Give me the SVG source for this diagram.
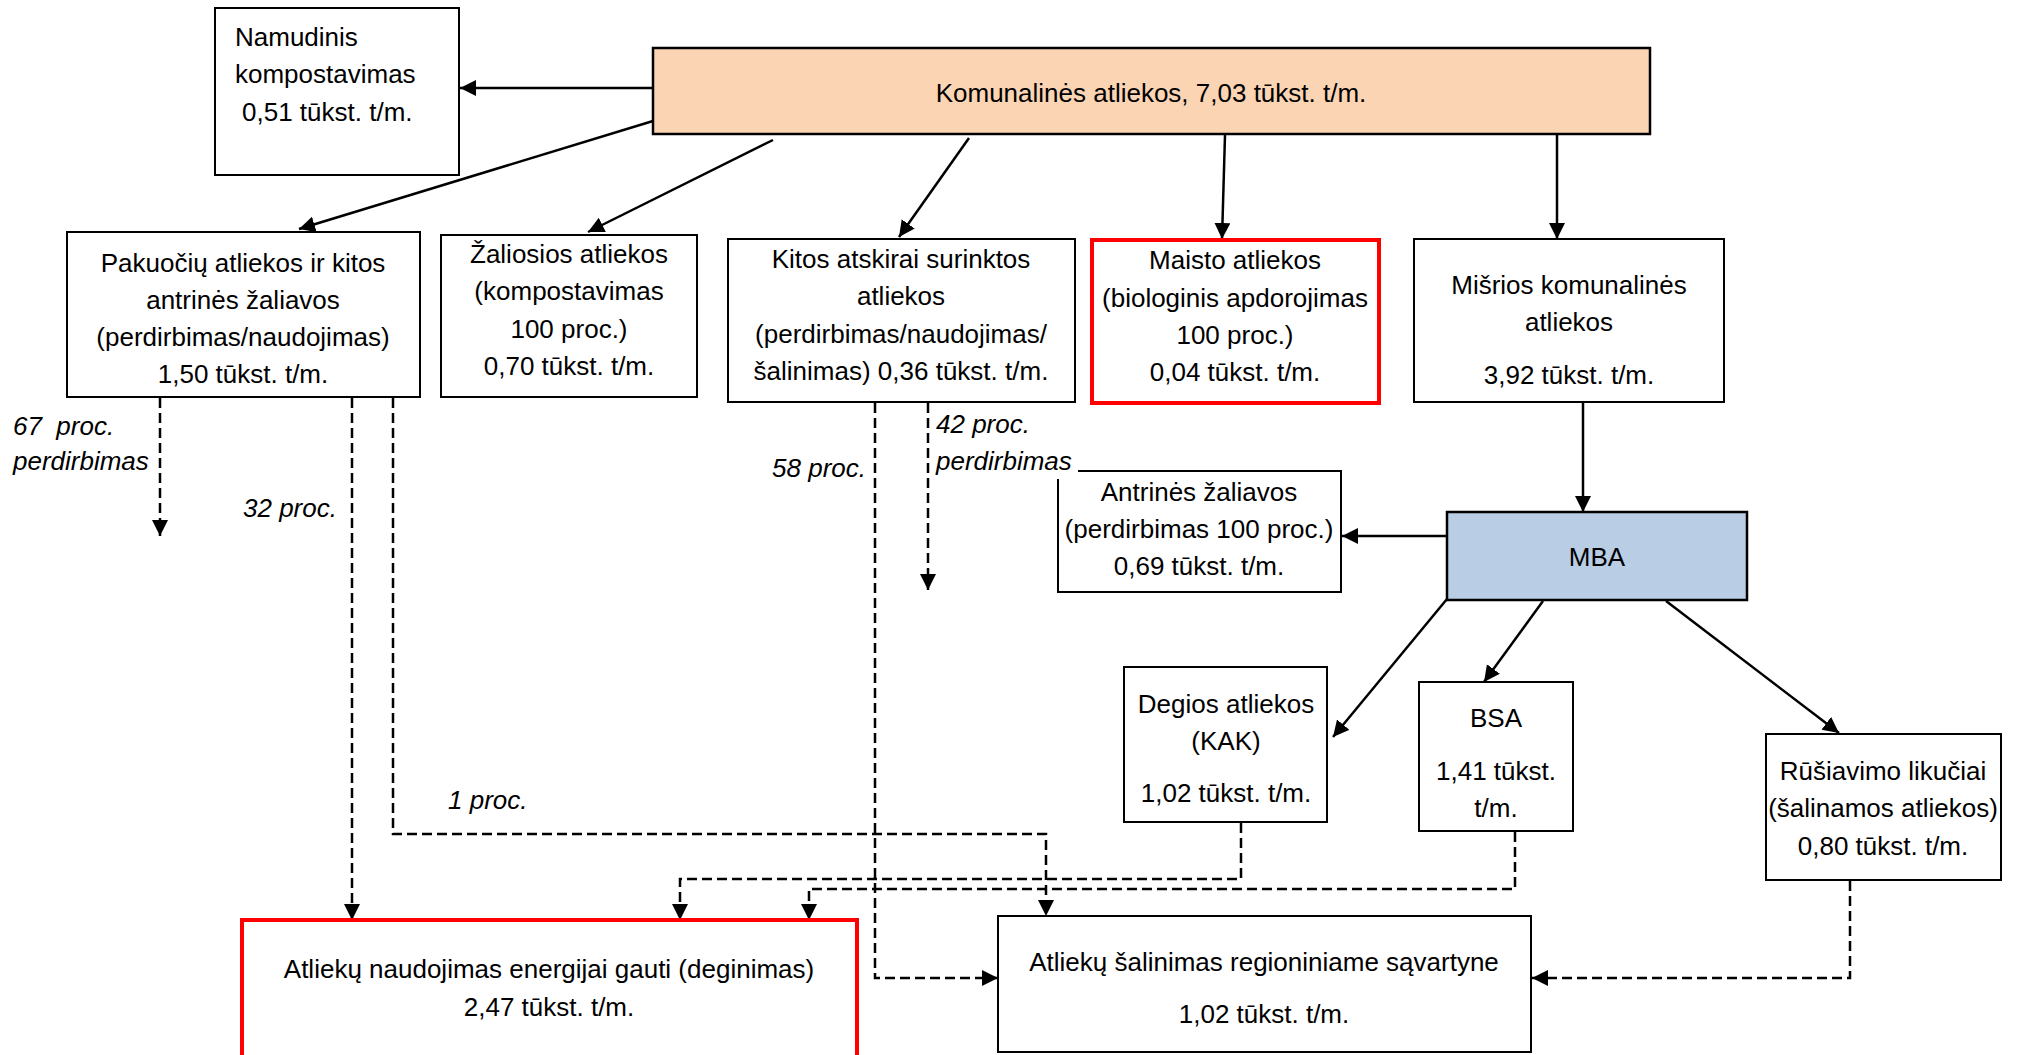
<svg xmlns="http://www.w3.org/2000/svg" width="2021" height="1055" viewBox="0 0 2021 1055">
<defs>
<style>
.box{fill:#ffffff;stroke:#000000;stroke-width:2}
.red{fill:#ffffff;stroke:#ff0000;stroke-width:4}
.t{font-family:"Liberation Sans",Arial,sans-serif;font-size:26px;fill:#000000;text-anchor:middle}
.ts{font-family:"Liberation Sans",Arial,sans-serif;font-size:26px;fill:#000000;text-anchor:start}
.lab{font-family:"Liberation Sans",Arial,sans-serif;font-size:26px;font-style:italic;fill:#000000}
.sol{fill:none;stroke:#000000;stroke-width:2.5;marker-end:url(#ah)}
.dash{fill:none;stroke:#000000;stroke-width:2.5;stroke-dasharray:10,5;marker-end:url(#ah)}
</style>
<marker id="ah" markerUnits="userSpaceOnUse" markerWidth="17" markerHeight="17" refX="16" refY="8" orient="auto">
<path d="M0,0 L16,8 L0,16 Z" fill="#000000"/>
</marker>
</defs>
<rect x="0" y="0" width="2021" height="1055" fill="#ffffff"/>

<g id="connectors">
<line class="sol" x1="653" y1="88" x2="460" y2="88"/>
<line class="sol" x1="653" y1="121" x2="299" y2="229"/>
<line class="sol" x1="773" y1="140" x2="588" y2="232"/>
<line class="sol" x1="969" y1="138" x2="899" y2="237"/>
<line class="sol" x1="1225" y1="135" x2="1222" y2="239"/>
<line class="sol" x1="1557" y1="135" x2="1557" y2="239"/>
<line class="sol" x1="1583" y1="403" x2="1583" y2="512"/>
<line class="sol" x1="1446" y1="536" x2="1342" y2="536"/>
<line class="sol" x1="1447" y1="599" x2="1333" y2="737"/>
<line class="sol" x1="1543" y1="601" x2="1484" y2="682"/>
<line class="sol" x1="1666" y1="601" x2="1839" y2="733"/>
<polyline class="dash" points="160,398 160,536"/>
<polyline class="dash" points="352,398 352,920"/>
<polyline class="dash" points="393,398 393,834 1046,834 1046,916"/>
<polyline class="dash" points="875,403 875,978 998,978"/>
<polyline class="dash" points="928,403 928,590"/>
<polyline class="dash" points="1241,823 1241,879 680,879 680,920"/>
<polyline class="dash" points="1515,832 1515,889 809,889 809,920"/>
<polyline class="dash" points="1850,881 1850,978 1532,978"/>
</g>

<g id="n-namudinis">
<rect class="box" x="215" y="8" width="244" height="167"/>
<text class="ts" x="235" y="46">Namudinis</text>
<text class="ts" x="235" y="83">kompostavimas</text>
<text class="ts" x="242" y="121">0,51 tūkst. t/m.</text>
</g>

<g id="n-komunalines">
<rect x="653" y="48" width="997" height="86" fill="#fbd4b4" stroke="#000000" stroke-width="2.5"/>
<text class="t" x="1151" y="102">Komunalinės atliekos, 7,03 tūkst. t/m.</text>
</g>

<g id="n-pakuociu">
<rect class="box" x="67" y="232" width="353" height="165"/>
<text class="t" x="243" y="272">Pakuočių atliekos ir kitos</text>
<text class="t" x="243" y="309">antrinės žaliavos</text>
<text class="t" x="243" y="346">(perdirbimas/naudojimas)</text>
<text class="t" x="243" y="383">1,50 tūkst. t/m.</text>
</g>

<g id="n-zaliosios">
<rect class="box" x="441" y="235" width="256" height="162"/>
<text class="t" x="569" y="263">Žaliosios atliekos</text>
<text class="t" x="569" y="300">(kompostavimas</text>
<text class="t" x="569" y="338">100 proc.)</text>
<text class="t" x="569" y="375">0,70 tūkst. t/m.</text>
</g>

<g id="n-kitos">
<rect class="box" x="728" y="239" width="347" height="163"/>
<text class="t" x="901" y="268">Kitos atskirai surinktos</text>
<text class="t" x="901" y="305">atliekos</text>
<text class="t" x="901" y="343">(perdirbimas/naudojimas/</text>
<text class="t" x="901" y="380">šalinimas) 0,36 tūkst. t/m.</text>
</g>

<g id="n-maisto">
<rect class="red" x="1092" y="240" width="287" height="163"/>
<text class="t" x="1235" y="269">Maisto atliekos</text>
<text class="t" x="1235" y="307">(biologinis apdorojimas</text>
<text class="t" x="1235" y="344">100 proc.)</text>
<text class="t" x="1235" y="381">0,04 tūkst. t/m.</text>
</g>

<g id="n-misrios">
<rect class="box" x="1414" y="239" width="310" height="163"/>
<text class="t" x="1569" y="294">Mišrios komunalinės</text>
<text class="t" x="1569" y="331">atliekos</text>
<text class="t" x="1569" y="384">3,92 tūkst. t/m.</text>
</g>

<g id="n-antrines">
<rect class="box" x="1058" y="471" width="283" height="121"/>
<text class="t" x="1199" y="501">Antrinės žaliavos</text>
<text class="t" x="1199" y="538">(perdirbimas 100 proc.)</text>
<text class="t" x="1199" y="575">0,69 tūkst. t/m.</text>
</g>

<g id="n-mba">
<rect x="1447" y="512" width="300" height="88" fill="#b9cde5" stroke="#000000" stroke-width="2.5"/>
<text class="t" x="1597" y="566">MBA</text>
</g>

<g id="n-degios">
<rect class="box" x="1124" y="667" width="203" height="155"/>
<text class="t" x="1226" y="713">Degios atliekos</text>
<text class="t" x="1226" y="750">(KAK)</text>
<text class="t" x="1226" y="802">1,02 tūkst. t/m.</text>
</g>

<g id="n-bsa">
<rect class="box" x="1419" y="682" width="154" height="149"/>
<text class="t" x="1496" y="727">BSA</text>
<text class="t" x="1496" y="780">1,41 tūkst.</text>
<text class="t" x="1496" y="817">t/m.</text>
</g>

<g id="n-rusiavimo">
<rect class="box" x="1766" y="734" width="235" height="146"/>
<text class="t" x="1883" y="780">Rūšiavimo likučiai</text>
<text class="t" x="1883" y="817">(šalinamos atliekos)</text>
<text class="t" x="1883" y="855">0,80 tūkst. t/m.</text>
</g>

<g id="n-naudojimas">
<rect class="red" x="242" y="920" width="615" height="160"/>
<text class="t" x="549" y="978">Atliekų naudojimas energijai gauti (deginimas)</text>
<text class="t" x="549" y="1016">2,47 tūkst. t/m.</text>
</g>

<g id="n-salinimas">
<rect class="box" x="998" y="916" width="533" height="136"/>
<text class="t" x="1264" y="971">Atliekų šalinimas regioniniame sąvartyne</text>
<text class="t" x="1264" y="1023">1,02 tūkst. t/m.</text>
</g>

<g id="labels">
<text class="lab" x="13" y="435" xml:space="preserve">67  proc.</text>
<text class="lab" x="13" y="470">perdirbimas</text>
<text class="lab" x="243" y="517">32 proc.</text>
<text class="lab" x="448" y="809">1 proc.</text>
<text class="lab" x="866" y="477" text-anchor="end">58 proc.</text>
<text class="lab" x="936" y="433">42 proc.</text>
<rect x="932" y="446" width="146" height="33" fill="#ffffff"/>
<text class="lab" x="936" y="470">perdirbimas</text>
</g>
</svg>
